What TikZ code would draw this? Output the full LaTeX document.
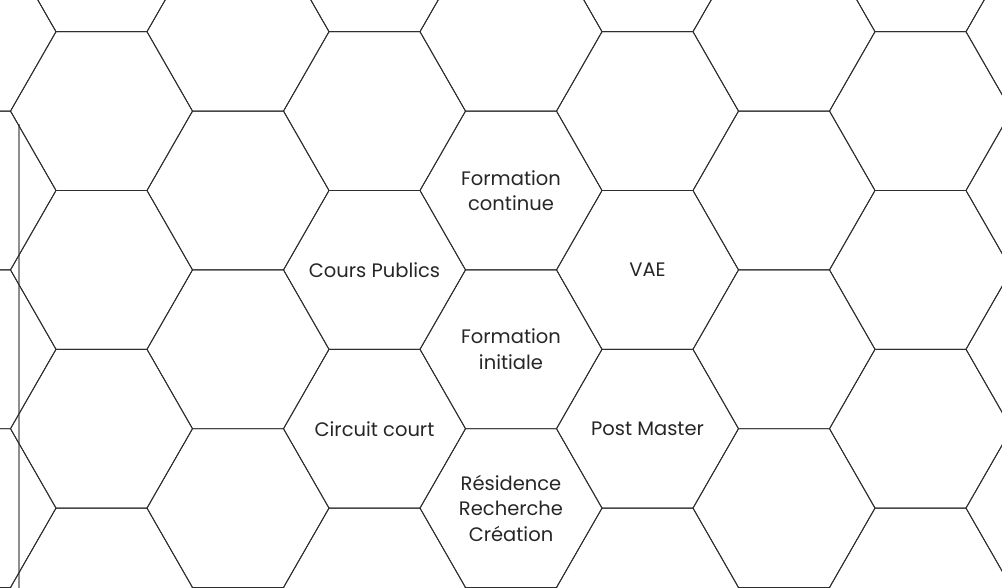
\documentclass[tikz,border=0pt]{standalone}
\usepackage{fontspec}
\setmainfont{Poppins}[Ligatures=NoCommon]
\definecolor{hexline}{HTML}{2E2E2E}
\definecolor{railgray}{HTML}{8E8E8E}
\definecolor{labelink}{HTML}{262626}
\tikzset{
  hexedge/.style={draw=hexline,line width=0.9pt,line join=miter},
  rail/.style={draw=railgray,line width=1.8pt},
  hexlabel/.style={align=center,text=labelink,inner sep=0pt,
    font=\fontsize{19.5}{25.5}\selectfont}
}

\begin{document}
\begin{tikzpicture}[line cap=butt,x=1pt,y=-1pt]
    \useasboundingbox (0,0) rectangle (1002,588);
    \clip (0,0) rectangle (1002,588);

    % Left rail, behind the grid
    \coordinate (railtop) at (18.7,123.7);
    \coordinate (railend) at (18.7,588);
    \draw[rail] (railtop) -- (railend);

    % Hexagon grid (flat top)
    \foreach \i in {-4,...,4} {
        \foreach \j in {-1,...,3} {
            \pgfmathsetmacro{\cx}{511+136.5*\i}
            \pgfmathsetmacro{\cy}{190.5+158.8*\j-79.4*abs(mod(\i,2))}
            \draw[hexedge,shift={(\cx,\cy)}] (91,0) -- (45.5,79.4) -- (-45.5,79.4)
                -- (-91,0) -- (-45.5,-79.4) -- (45.5,-79.4) -- cycle;
        }
    }

    % Labels
    \node[hexlabel] (FC) at (511,190.5) {Formation\\continue};
    \node[hexlabel] (CP) at (374.5,269.9) {Cours Publics};
    \node[hexlabel] (VAE) at (647.5,269.9) {VAE};
    \node[hexlabel] (FI) at (511,349.3) {Formation\\initiale};
    \node[hexlabel] (CC) at (374.5,428.7) {Circuit court};
    \node[hexlabel] (PM) at (647.5,428.7) {Post Master};
    \node[hexlabel] (RRC) at (511,508.1) {Résidence\\Recherche\\Création};
\end{tikzpicture}
\end{document}
